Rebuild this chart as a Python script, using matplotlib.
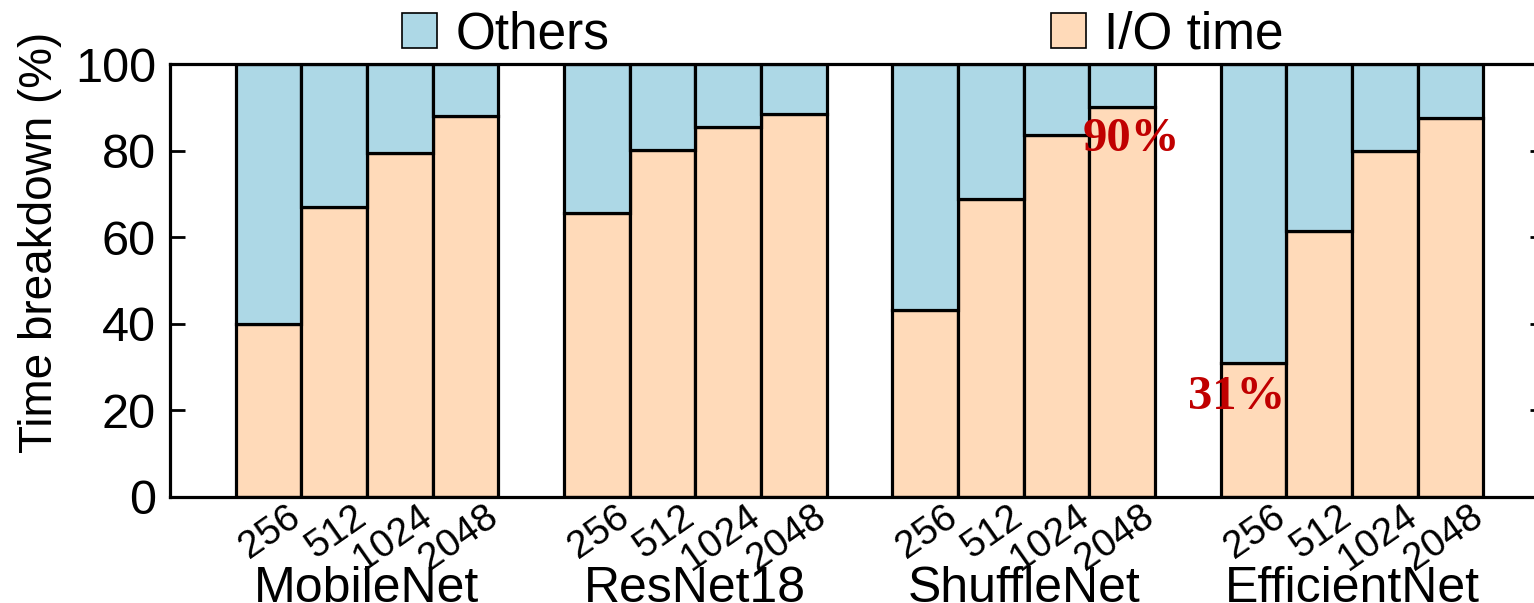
import matplotlib
matplotlib.use("Agg")
import matplotlib.pyplot as plt
import numpy as np
from matplotlib.patches import Patch

plt.rcParams['font.family'] = ['Liberation Sans', 'DejaVu Sans']

models = ["MobileNet", "ResNet18", "ShuffleNet", "EfficientNet"]
batch_sizes = ["256", "512", "1024", "2048"]
io_time = {
    "MobileNet":    [40.0, 67.0, 79.5, 88.0],
    "ResNet18":     [65.7, 80.2, 85.5, 88.5],
    "ShuffleNet":   [43.1, 68.9, 83.6, 90.0],
    "EfficientNet": [31.0, 61.5, 80.0, 87.5],
}
# (label, model, bar index, x offset pt, y offset pt)
annotations = [("90%", "ShuffleNet", 3, 6.5, -7.0), ("31%", "EfficientNet", 0, -12.2, -8.6)]

c_io = "#FFDAB9"
c_oth = "#ADD8E6"

fig = plt.figure(figsize=(15.34, 6.03), dpi=100)
ax = fig.add_axes([170/1534, 1-497/603, (1549-170)/1534, 433/603])

group_stride = len(batch_sizes) + 1
tick_pos, tick_lab = [], []
for g, m in enumerate(models):
    xs = 1.5 + group_stride*g + np.arange(len(batch_sizes))
    io = np.array(io_time[m])
    ax.bar(xs, io, width=1.0, color=c_io, edgecolor="black", linewidth=2.3, zorder=2)
    ax.bar(xs, 100-io, bottom=io, width=1.0, color=c_oth, edgecolor="black", linewidth=2.3, zorder=2)
    tick_pos += list(xs + 0.59)
    tick_lab += batch_sizes
    ax.annotate(m, xy=(xs.mean(), 0), xycoords=("data", "axes fraction"),
                xytext=(0, -50), textcoords="offset points",
                ha="center", va="top", fontsize=36)

for txt, m, i, dx, dy in annotations:
    g = models.index(m)
    x = 1.5 + group_stride*g + i
    y = io_time[m][i]
    ax.annotate(txt, xy=(x, y), xytext=(dx, dy),
                textcoords="offset points", ha="center", va="top",
                fontsize=35, fontweight="bold", color="#C00000",
                family=["Liberation Serif", "DejaVu Serif"], zorder=5)

ax.set_xlim(0, 21)
ax.set_ylim(0, 100)
ax.set_xticks(tick_pos)
ax.set_xticklabels(tick_lab, rotation=35, ha="right", fontsize=28)
ax.tick_params(axis="x", length=0, pad=1)
ax.set_yticks([0, 20, 40, 60, 80, 100])
ax.tick_params(axis="y", labelsize=35, direction="in", length=11, width=2, pad=10)
ax.tick_params(axis="y", which="major", right=True)
for t in ax.yaxis.get_ticklines()[1::2]:
    t.set_markersize(14)
for s in ax.spines.values():
    s.set_linewidth(2.3)
ax.set_ylabel("Time breakdown (%)", fontsize=33)
ax.yaxis.set_label_coords(-0.078, 0.587)

handles = [Patch(facecolor=c_oth, edgecolor="black", linewidth=1.2, label="Others"),
           Patch(facecolor=c_io, edgecolor="black", linewidth=1.2, label="I/O time")]
fig.legend(handles=handles, loc="center", bbox_to_anchor=(843/1534, 1-35/603),
           ncol=2, frameon=False, fontsize=37, handlelength=0.68, handleheight=0.68,
           handletextpad=0.35, columnspacing=8.6, borderpad=0, borderaxespad=0)

fig.savefig("out.png", dpi=100)
